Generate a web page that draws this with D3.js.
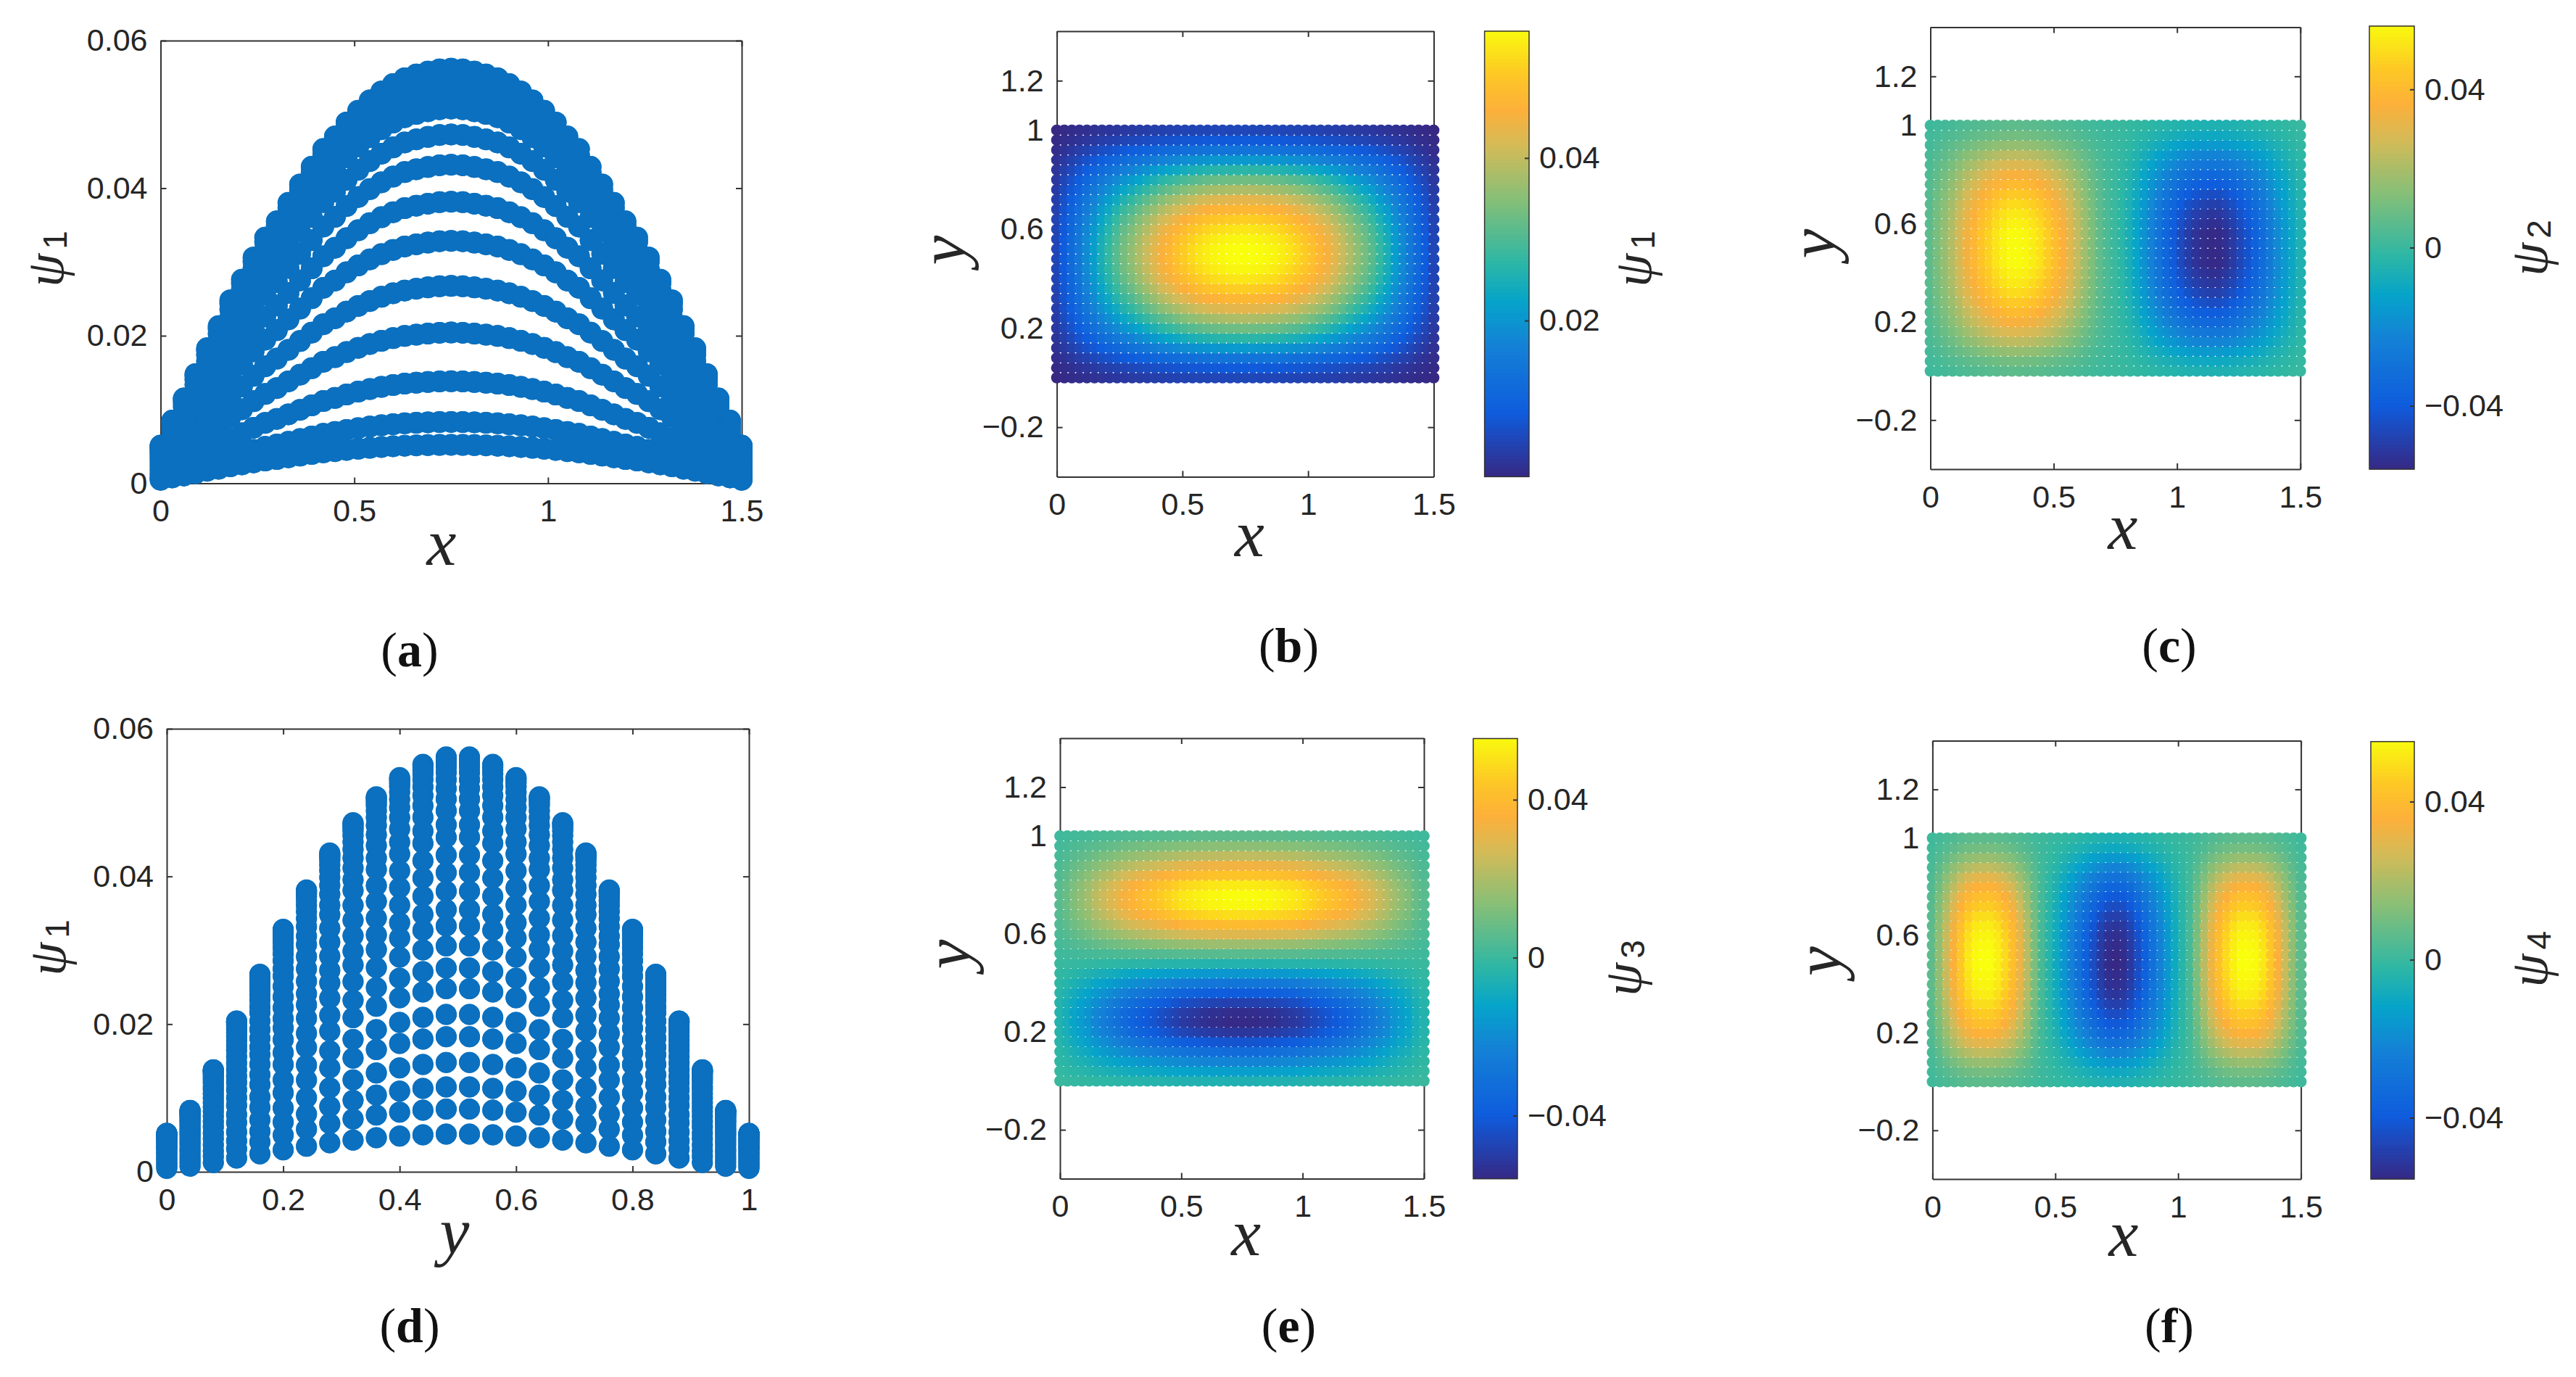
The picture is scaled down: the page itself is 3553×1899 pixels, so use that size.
<!DOCTYPE html>
<html>
<head>
<meta charset="utf-8">
<script src="https://cdn.jsdelivr.net/npm/d3@7"></script>
<style>
  body { margin: 0; background: #fff; }
  svg { display: block; }
  .tick text { fill: #262626; font-family: "Liberation Sans", sans-serif; font-size: 43px; }
  .tick line, .domain { stroke: #333; stroke-width: 2; fill: none; }
</style>
</head>
<body>
<div id="container"></div>
<script>
// grid of the scatter dots
const xPts = [0,.03,.06,.09,.12,.15,.18,.21,.24,.27,.3,.33,.36,.39,.42,.45,.48,.51,.54,.57,.6,.63,.66,.69,.72,.75,.78,.81,.84,.87,.9,.93,.96,.99,1.02,1.05,1.08,1.11,1.14,1.17,1.2,1.23,1.26,1.29,1.32,1.35,1.38,1.41,1.44,1.47,1.5]
const yPts = [0,.04,.08,.12,.16,.2,.24,.28,.32,.36,.4,.44,.48,.52,.56,.6,.64,.68,.72,.76,.8,.84,.88,.92,.96,1]

// profiles, one along x and one along y for each field.
// the value of a dot is taken as the product of the two (approximation, not a cell by cell reading)
const psi1AlongX = [.0051,.0085,.0115,.0148,.0183,.0213,.0248,.0276,.0306,.0333,.0355,.038,.0405,.0429,.0453,.047,.0489,.0505,.0519,.0531,.0541,.0549,.0554,.0558,.0561,.0562,.0561,.0558,.0554,.0549,.0541,.0531,.0519,.0505,.0489,.047,.0453,.0429,.0405,.038,.0355,.0333,.0306,.0276,.0248,.0213,.0183,.0148,.0115,.0085,.0051]
const psi1AlongY = [.0052,.0083,.0138,.0204,.0267,.0328,.0381,.0431,.0472,.0507,.0533,.0551,.0561,.0561,.0551,.0533,.0507,.0472,.0431,.0381,.0328,.0267,.0204,.0138,.0083,.0052]
const psi2AlongX = [.006,.011,.016,.021,.027,.033,.038,.043,.047,.051,.054,.056,.056,.055,.053,.05,.046,.041,.036,.03,.024,.018,.012,.007,.003,0,-.003,-.007,-.012,-.018,-.024,-.03,-.036,-.041,-.046,-.05,-.053,-.055,-.056,-.056,-.054,-.051,-.047,-.043,-.038,-.033,-.027,-.021,-.016,-.011,-.006]
const psi2AlongY = [.006,.01,.016,.023,.029,.035,.04,.045,.049,.052,.054,.056,.056,.056,.056,.054,.052,.049,.045,.04,.035,.029,.023,.016,.01,.006]
const psi3AlongX = [.005,.008,.012,.015,.018,.022,.025,.028,.031,.034,.037,.039,.041,.043,.045,.047,.049,.051,.052,.053,.054,.055,.055,.056,.056,.056,.056,.056,.055,.055,.054,.053,.052,.051,.049,.047,.045,.043,.041,.039,.037,.034,.031,.028,.025,.022,.018,.015,.012,.008,.005]
const psi3AlongY = [-.006,-.014,-.023,-.033,-.043,-.052,-.056,-.055,-.049,-.04,-.029,-.017,-.005,.005,.017,.029,.04,.049,.055,.056,.052,.043,.033,.023,.014,.006]
const psi4AlongX = [.006,.015,.025,.035,.044,.051,.055,.056,.056,.053,.048,.041,.032,.022,.011,.002,-.004,-.01,-.017,-.024,-.031,-.038,-.045,-.051,-.055,-.056,-.055,-.051,-.045,-.038,-.031,-.024,-.017,-.01,-.004,.002,.011,.022,.032,.041,.048,.053,.056,.056,.055,.051,.044,.035,.025,.015,.006]
const psi4AlongY = [.006,.01,.016,.023,.03,.036,.041,.045,.049,.052,.054,.055,.056,.056,.055,.054,.052,.049,.045,.041,.036,.03,.023,.016,.01,.006]

// tick labels
const xTicksField = [0,.5,1,1.5]
const yTicksField = [-.2,.2,.6,1,1.2]
const xTicksProfile = [0,.5,1,1.5]
const yPosTicks = [0,.2,.4,.6,.8,1]
const psiTicks = [0,.02,.04,.06]
const barTicksPsi1 = [.02,.04]
const barTicksMode = [-.04,0,.04]

// colormap as it reads off the colorbar of panel (b)
const parulaAt = [0,.14,.29,.39,.48,.62,.735,.82,.9,1]
const parula = ["#352a87","#0f5cdd","#1481d6","#06a4ca","#2eb7a4","#87bf77","#d1bb59","#fdb03a","#fdc825","#f9fb0e"]
const dotBlue = "#0b70bf"

function field(xs, ys){
    const peak = d3.max(ys, Math.abs)
    return (i, j) => xs[i] * ys[j] / peak
}
const psi1 = field(psi1AlongX, psi1AlongY)
const psi2 = field(psi2AlongX, psi2AlongY)
const psi3 = field(psi3AlongX, psi3AlongY)
const psi4 = field(psi4AlongX, psi4AlongY)

const points = []
xPts.forEach((x,i) => yPts.forEach((y,j) => points.push({x, y, i, j})))

const svg = d3.select("#container").append("svg").attr("width",3553).attr("height",1899)
const color = d3.scaleLinear().domain(parulaAt).range(parula).interpolate(d3.interpolateRgb)
const fmt = v => String(v).replace("-","\u2212")

function drawAxes(g, x, y, xTicks, yTicks, left, right, top, bottom){
    const ax = (axis, ticks, dx, dy, labels, pad) => {
        g.append("g").attr("transform",`translate(${dx},${dy})`)
            .call(axis.tickValues(ticks).tickSizeInner(-8).tickSizeOuter(0).tickPadding(pad)
                .tickFormat(labels ? fmt : ""))
    }
    ax(d3.axisBottom(x), xTicks, 0, bottom, true, 22)
    ax(d3.axisTop(x), xTicks, 0, top, false, 22)
    ax(d3.axisLeft(y), yTicks, left, 0, true, 18)
    ax(d3.axisRight(y), yTicks, right, 0, false, 18)
}

function mathLabel(sym, sub, px, py, rotate, size){
    const t = svg.append("text")
        .attr("transform",`translate(${px},${py})${rotate ? " rotate(-90)" : ""}`)
        .attr("text-anchor","middle").attr("dominant-baseline","middle").attr("fill","#262626")
    t.append("tspan").attr("font-family","'Liberation Serif', serif").attr("font-style","italic")
        .attr("font-size",size).text(sym)
    if(sub){
        t.append("tspan").attr("font-family","'Liberation Sans', sans-serif").attr("font-size",46)
            .attr("dx",6).attr("dy",10).text(sub)
    }
}

function caption(letter, px, py){
    const t = svg.append("text").attr("x",px).attr("y",py).attr("text-anchor","middle")
        .attr("dominant-baseline","middle").attr("font-family","'Liberation Serif', serif")
        .attr("font-size",68).attr("fill","#111")
    t.append("tspan").text("(")
    t.append("tspan").attr("font-weight","bold").text(letter)
    t.append("tspan").text(")")
}

// panels (a) and (d): blue scatter of psi1 against x or y
function profilePanel(p){
    const g = svg.append("g")
    const x = d3.scaleLinear().domain(p.xDomain).range([p.left,p.right])
    const y = d3.scaleLinear().domain([0,.06]).range([p.bottom,p.top])
    drawAxes(g,x,y,p.xTicks,psiTicks,p.left,p.right,p.top,p.bottom)
    g.append("g").selectAll("circle").data(points).join("circle")
        .attr("cx",d=>x(d[p.key])).attr("cy",d=>y(psi1(d.i,d.j)))
        .attr("r",p.r).attr("fill",dotBlue)
    mathLabel(p.xName,null,p.xLabel[0],p.xLabel[1],false,92)
    mathLabel("\u03c8","1",p.yLabel[0],p.yLabel[1],true,74)
    caption(p.letter,p.cap[0],p.cap[1])
}

// panels (b),(c),(e),(f): coloured scatter over (x,y) with a colorbar
function fieldPanel(p){
    const g = svg.append("g")
    const x = d3.scaleLinear().domain([0,1.5]).range([p.left,p.right])
    const y = d3.scaleLinear().domain([-.4,1.4]).range([p.bottom,p.top])
    drawAxes(g,x,y,xTicksField,yTicksField,p.left,p.right,p.top,p.bottom)
    const c = d3.scaleSequential(p.domain,color)
    g.append("g").selectAll("circle").data(points).join("circle")
        .attr("cx",d=>x(d.x)).attr("cy",d=>y(d.y))
        .attr("r",7.9).attr("fill",d=>c(p.f(d.i,d.j)))

    const bar = d3.scaleLinear().domain(p.domain).range([p.bottom,p.barTop])
    const levels = d3.range(p.domain[0],p.domain[1],(p.domain[1]-p.domain[0])/128)
    const step = (p.bottom-p.barTop)/128
    g.append("g").selectAll("rect").data(levels).join("rect")
        .attr("x",p.barL).attr("width",p.barR-p.barL)
        .attr("y",d=>bar(d)-step-0.5).attr("height",step+1)
        .attr("fill",d=>c(d))
    g.append("rect").attr("x",p.barL).attr("y",p.barTop).attr("width",p.barR-p.barL)
        .attr("height",p.bottom-p.barTop).attr("fill","none").attr("stroke","#333").attr("stroke-width",1.5)
    g.append("g").attr("transform",`translate(${p.barR},0)`)
        .call(d3.axisRight(bar).tickValues(p.barTicks).tickSizeInner(-6).tickSizeOuter(0).tickPadding(14).tickFormat(fmt))
        .call(a=>a.select(".domain").remove())

    mathLabel("x",null,p.xLabel[0],p.xLabel[1],false,92)
    mathLabel("y",null,p.yLabel[0],p.yLabel[1],true,92)
    mathLabel("\u03c8",p.sub,p.barLabel[0],p.barLabel[1],true,74)
    caption(p.letter,p.cap[0],p.cap[1])
}

profilePanel({letter:"a",key:"x",xName:"x",r:15,xDomain:[0,1.5],xTicks:xTicksProfile,left:221.5,right:1023,top:56,bottom:666.5,xLabel:[609,758],yLabel:[70,357],cap:[565,903]})
profilePanel({letter:"d",key:"y",xName:"y",r:14.5,xDomain:[0,1],xTicks:yPosTicks,left:230,right:1033,top:1005,bottom:1616,xLabel:[627,1708],yLabel:[73,1307],cap:[565,1835]})

fieldPanel({letter:"b",sub:"1",f:psi1,domain:[.0008,.0556],barTicks:barTicksPsi1,left:1457.6,right:1977.5,top:43,bottom:657.4,barTop:43,barL:2047.6,barR:2109,xLabel:[1723.5,746],yLabel:[1310,345],barLabel:[2260,357],cap:[1777.5,897]})
fieldPanel({letter:"c",sub:"2",f:psi2,domain:[-.056,.056],barTicks:barTicksMode,left:2662.5,right:3172.8,top:37.6,bottom:647,barTop:36,barL:3268,barR:3330,xLabel:[2928,736],yLabel:[2510,336],barLabel:[3496,342],cap:[2992,897]})
fieldPanel({letter:"e",sub:"3",f:psi3,domain:[-.056,.0555],barTicks:barTicksMode,left:1462,right:1964,top:1018,bottom:1625.6,barTop:1018.5,barL:2032,barR:2093,xLabel:[1718.6,1710],yLabel:[1317,1316],barLabel:[2246,1335],cap:[1777.5,1835]})
fieldPanel({letter:"f",sub:"4",f:psi4,domain:[-.0555,.0552],barTicks:barTicksMode,left:2665.4,right:3173.6,top:1021.5,bottom:1626,barTop:1022.7,barL:3270,barR:3330,xLabel:[2929,1711],yLabel:[2517.6,1325.7],barLabel:[3496,1322.6],cap:[2992,1835]})
</script>
</body>
</html>
